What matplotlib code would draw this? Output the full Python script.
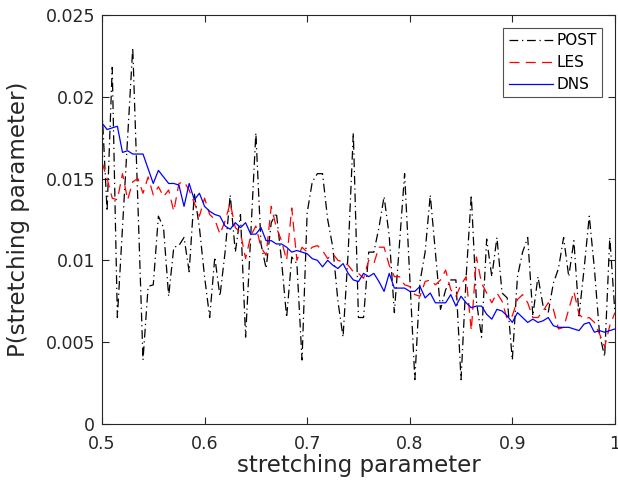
import numpy as np
import matplotlib
matplotlib.use('Agg')
import matplotlib.pyplot as plt
from matplotlib.ticker import FixedLocator, FixedFormatter

# stretching parameter grid
s = np.round(np.arange(0.5, 1.0001, 0.005), 3)

post = [0.0193, 0.0130, 0.0218, 0.0065, 0.0120, 0.0175, 0.0230, 0.0135, 0.0039, 0.0084,
        0.0085, 0.0127, 0.0120, 0.0078, 0.0108, 0.0109, 0.0114, 0.0093, 0.0141, 0.0120,
        0.0090, 0.0065, 0.0102, 0.0078, 0.0105, 0.0140, 0.0105, 0.0128, 0.0053, 0.0115,
        0.0178, 0.0110, 0.0095, 0.0123, 0.0129, 0.0100, 0.0065, 0.0102, 0.0098, 0.0039,
        0.0129, 0.0148, 0.0153, 0.0153, 0.0125, 0.0108, 0.0075, 0.0053, 0.0105, 0.0178,
        0.0065, 0.0065, 0.0105, 0.0105, 0.0120, 0.0139, 0.0115, 0.0068, 0.0110, 0.0153,
        0.0090, 0.0027, 0.0087, 0.0105, 0.0140, 0.0105, 0.0070, 0.0082, 0.0088, 0.0088,
        0.0027, 0.0090, 0.0140, 0.0075, 0.0053, 0.0113, 0.0090, 0.0114, 0.0080, 0.0077,
        0.0039, 0.0090, 0.0105, 0.0114, 0.0066, 0.0090, 0.0072, 0.0068, 0.0086, 0.0095,
        0.0114, 0.0090, 0.0112, 0.0066, 0.0095, 0.0127, 0.0095, 0.0055, 0.0041, 0.0114,
        0.0068]

les = [0.0160, 0.0150, 0.0138, 0.0137, 0.0153, 0.0137, 0.0148, 0.0150, 0.0141, 0.0151,
       0.0140, 0.0145, 0.0139, 0.0143, 0.0130, 0.0147, 0.0148, 0.0143, 0.0135, 0.0127,
       0.0138, 0.0128, 0.0125, 0.0116, 0.0124, 0.0135, 0.0120, 0.0117, 0.0101, 0.0115,
       0.0121, 0.0108, 0.0103, 0.0133, 0.0120, 0.0112, 0.0100, 0.0132, 0.0100, 0.0108,
       0.0105, 0.0108, 0.0109, 0.0106, 0.0101, 0.0104, 0.0100, 0.0099, 0.0097, 0.0093,
       0.0092, 0.0089, 0.0100, 0.0098, 0.0108, 0.0108, 0.0097, 0.0090, 0.0090, 0.0085,
       0.0084, 0.0079, 0.0078, 0.0087, 0.0088, 0.0085, 0.0088, 0.0094, 0.0082, 0.0078,
       0.0085, 0.0090, 0.0057, 0.0102, 0.0086, 0.0080, 0.0074, 0.0080, 0.0075, 0.0064,
       0.0066, 0.0076, 0.0079, 0.0074, 0.0065, 0.0065, 0.0069, 0.0074, 0.0070, 0.0058,
       0.0059, 0.0070, 0.0081, 0.0067, 0.0064, 0.0065, 0.0062, 0.0055, 0.0047, 0.0060,
       0.0068]

dns = [0.0184, 0.0180, 0.0181, 0.0182, 0.0166, 0.0167, 0.0165, 0.0165, 0.0165, 0.0156,
       0.0147, 0.0155, 0.0151, 0.0147, 0.0147, 0.0146, 0.0133, 0.0147, 0.0137, 0.0141,
       0.0133, 0.0130, 0.0128, 0.0127, 0.0121, 0.0119, 0.0123, 0.0120, 0.0123, 0.0116,
       0.0116, 0.0120, 0.0112, 0.0112, 0.0110, 0.0110, 0.0108, 0.0105, 0.0106, 0.0105,
       0.0104, 0.0101, 0.0100, 0.0096, 0.0100, 0.0097, 0.0095, 0.0098, 0.0092, 0.0088,
       0.0087, 0.0092, 0.0090, 0.0092, 0.0087, 0.0081, 0.0092, 0.0083, 0.0083, 0.0083,
       0.0081, 0.0081, 0.0084, 0.0077, 0.0080, 0.0074, 0.0074, 0.0074, 0.0079, 0.0072,
       0.0078, 0.0074, 0.0071, 0.0072, 0.0072, 0.0067, 0.0064, 0.0070, 0.0069, 0.0066,
       0.0062, 0.0068, 0.0065, 0.0062, 0.0064, 0.0062, 0.0063, 0.0065, 0.0060, 0.0059,
       0.0059, 0.0059, 0.0058, 0.0057, 0.0061, 0.0062, 0.0056, 0.0057, 0.0056, 0.0057,
       0.0058]

xticks = [0.5, 0.6, 0.7, 0.8, 0.9, 1.0]
xticklabels = ['0.5', '0.6', '0.7', '0.8', '0.9', '1']
yticks = [0, 0.005, 0.01, 0.015, 0.02, 0.025]
yticklabels = ['0', '0.005', '0.01', '0.015', '0.02', '0.025']

grey = '#262626'
plt.rcParams['font.family'] = ['DejaVu Sans']

fig = plt.figure(figsize=(6.18, 4.86), dpi=100)
ax = fig.add_axes([0.165, 0.128, 0.830, 0.841])

ax.plot(s, post, color='k', linestyle=(0, (7, 3, 1, 3)), linewidth=0.9, label='POST')
ax.plot(s, les, color='r', linestyle=(0, (8, 5)), linewidth=0.9, label='LES')
ax.plot(s, dns, color='b', linestyle='-', linewidth=0.9, label='DNS')

ax.set_xlim(0.5, 1.0)
ax.set_ylim(0, 0.025)
ax.xaxis.set_major_locator(FixedLocator(xticks))
ax.xaxis.set_major_formatter(FixedFormatter(xticklabels))
ax.yaxis.set_major_locator(FixedLocator(yticks))
ax.yaxis.set_major_formatter(FixedFormatter(yticklabels))

ax.tick_params(direction='in', top=True, right=True, length=5, width=0.8,
               colors=grey, labelsize=12.5, pad=5)
ax.tick_params(axis='x', pad=8)
for sp in ax.spines.values():
    sp.set_color(grey)
    sp.set_linewidth(0.8)

ax.set_xlabel('stretching parameter', fontsize=16.5, color=grey, labelpad=1)
ax.set_ylabel('P(stretching parameter)', fontsize=16.5, color=grey, labelpad=11)

leg = ax.legend(loc='upper right', fontsize=11, frameon=True, fancybox=False,
                edgecolor=grey, borderpad=0.35, handlelength=2.9, handletextpad=0.2,
                labelspacing=0.45, borderaxespad=0.85)
leg.get_frame().set_linewidth(0.8)

fig.savefig('out.png', dpi=100)
